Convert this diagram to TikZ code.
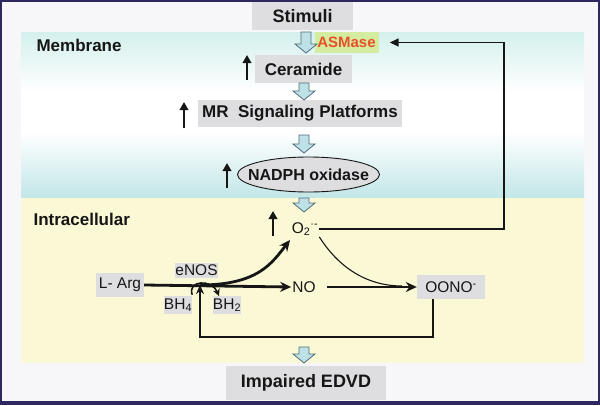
\documentclass[tikz,border=0pt]{standalone}
\usepackage{fontspec}
\setmainfont{Liberation Sans}
\usetikzlibrary{arrows.meta,shapes.geometric}
\definecolor{navy}{RGB}{45,40,95}
\definecolor{bgc}{RGB}{247,247,250}
\definecolor{cyA}{RGB}{212,240,237}
\definecolor{cyB}{RGB}{194,230,231}
\definecolor{yel}{RGB}{251,248,214}
\definecolor{boxg}{RGB}{222,222,224}
\definecolor{asmg}{RGB}{212,236,160}
\definecolor{asmr}{RGB}{232,80,40}
\definecolor{blkf}{RGB}{190,225,232}
\definecolor{blkd}{RGB}{80,110,118}
\definecolor{ink}{RGB}{22,22,22}
\newcommand\blkarr[3]{\draw[blkstyle] ({#1-5},#2) -- ({#1+5},#2) -- ({#1+5},{#3-9}) -- ({#1+11},{#3-9}) -- (#1,#3) -- ({#1-11},{#3-9}) -- ({#1-5},{#3-9}) -- cycle;}
\begin{document}
\begin{tikzpicture}[x=1pt,y=-1pt,
  graybox/.style={fill=boxg, inner sep=0pt, text=ink},
  boldtxt/.style={font=\bfseries\fontsize{17}{19}\selectfont, text=ink},
  regtxt/.style={font=\fontsize{15.5}{18}\selectfont, text=ink},
  blkstyle/.style={fill=blkf, draw=blkd, line width=0.8pt, line join=miter},
  uparr/.style={draw=ink, line width=2.6pt, -{Triangle[length=8pt,width=8.5pt]}},
  thickarr/.style={draw=ink, line width=2.8pt, -{Stealth[length=11pt,width=10pt]}},
  thinline/.style={draw=ink, line width=1.1pt},
  medarr/.style={draw=ink, line width=1.6pt, -{Stealth[length=9pt,width=8pt]}}]
\useasboundingbox (0,0) rectangle (600,405);
% frame and regions
\fill[navy] (0,0) rectangle (600,405);
\fill[bgc] (2,1.5) rectangle (598,401);
\shade[top color=cyA, bottom color=white] (21,32) rectangle (584,92);
\fill[white] (21,92) rectangle (584,132);
\shade[top color=white, bottom color=cyB] (21,132) rectangle (584,198);
\fill[yel] (21,198) rectangle (584,363);
% region labels
\node[boldtxt, anchor=west] (memb) at (33,45) {Membrane};
\node[boldtxt, anchor=west] (intra) at (30,219) {Intracellular};
% nodes
\node[graybox, boldtxt, font=\bfseries\fontsize{18}{20}\selectfont, minimum width=101pt, minimum height=28pt] (stim) at (302.5,16) {Stimuli};
\node[fill=asmg, inner sep=0pt, minimum width=64pt, minimum height=21pt, text=asmr, font=\bfseries\fontsize{15}{17}\selectfont] (asm) at (346.5,42.5) {ASMase};
\node[graybox, boldtxt, minimum width=97pt, minimum height=28pt] (cer) at (303.5,69) {Ceramide};
\node[graybox, boldtxt, minimum width=204pt, minimum height=27pt] (mr) at (300,113.5) {MR\ \ Signaling Platforms};
\draw[draw=ink, line width=0.9pt, fill=boxg] (308.5,174.5) ellipse [x radius=71pt, y radius=17.5pt];
\node[boldtxt, inner sep=0pt, font=\bfseries\fontsize{16}{18}\selectfont] (nadph) at (308.5,174.5) {NADPH oxidase};
\node[regtxt, inner sep=1pt] (o2) at (305,229) {O\textsubscript{2}\textsuperscript{·-}};
\node[graybox, regtxt, minimum width=48pt, minimum height=24pt] (larg) at (120,285) {L- Arg};
\node[graybox, regtxt, minimum width=43pt, minimum height=15pt] (enos) at (196.5,270) {eNOS};
\node[graybox, regtxt, minimum width=28pt, minimum height=18pt] (bh4) at (178,305) {BH\textsubscript{4}};
\node[graybox, regtxt, minimum width=27pt, minimum height=18pt] (bh2) at (227,305) {BH\textsubscript{2}};
\node[regtxt, inner sep=1pt] (no) at (304,287) {NO};
\node[graybox, regtxt, minimum width=68pt, minimum height=24pt] (oono) at (451,287) {OONO\textsuperscript{-}};
\node[graybox, boldtxt, font=\bfseries\fontsize{18}{20}\selectfont, minimum width=160pt, minimum height=34pt] (imp) at (306,383) {Impaired EDVD};
% block arrows
\blkarr{306}{32}{53}
\blkarr{304}{83}{100}
\blkarr{304}{135}{153}
\blkarr{304}{198}{212}
\blkarr{304}{347}{363}
% increase arrows
\draw[uparr] (247,80) -- (247,55);
\draw[uparr] (184,128) -- (184,102);
\draw[uparr] (227,188) -- (227,163);
\draw[uparr] (273,236) -- (273,211);
% coordinates
\coordinate (fbx) at (504,0);
\coordinate (ecs) at (200,285);
\coordinate (o2in) at (290,240);
\coordinate (merge) at (402,286);
\coordinate (botx) at (433,0);
\coordinate (boty) at (0,337);
% connectors
\draw[thinline, line width=1.5pt, -{Triangle[length=9pt,width=8pt]}, shorten >=11pt] (o2.east) -| (fbx |- asm.east) -- (asm.east);
\draw[thickarr] (larg.east) -- (no.west);
\draw[thickarr] (ecs) .. controls (258,285) and (272,263) .. (o2in);
\draw[thinline] (o2.south east) .. controls (335,262) and (362,286) .. (merge);
\draw[thickarr, shorten <=10pt] (no.east) -- (oono.west);
\draw[medarr] (botx |- oono.south) -- (botx |- boty) -| (ecs);
\draw[thinline, line width=1.6pt, -{Stealth[length=7pt,width=7pt]}] (bh4.north east) ++(0,-1) .. controls (187,280) and (212,279) .. (219,296);
\end{tikzpicture}
\end{document}
